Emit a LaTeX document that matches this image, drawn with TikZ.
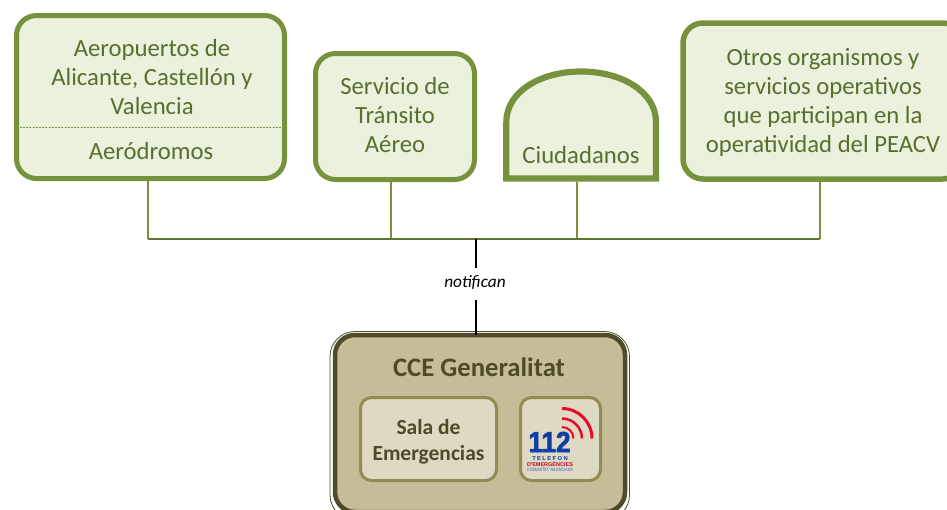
\documentclass[tikz,border=0pt]{standalone}
\usepackage{fontspec}
\setmainfont{Carlito}
\newfontfamily\logofont{Liberation Sans}
\definecolor{gline}{HTML}{76923C}
\definecolor{gfill}{HTML}{EAF1DD}
\definecolor{gtext}{HTML}{56702F}
\definecolor{gbus}{HTML}{5F7530}
\definecolor{cdark}{HTML}{4F4A2A}
\definecolor{cfill}{HTML}{C4BD97}
\definecolor{cin}{HTML}{DDD9C3}
\definecolor{cedge}{HTML}{948A54}
\definecolor{logoblue}{HTML}{0F3EA8}
\definecolor{logored}{HTML}{E30A2A}
\tikzset{
  x=1pt,y=-1pt,
  gbox/.style={draw=gline,fill=gfill,line width=5pt,rounded corners=20pt,inner sep=0pt,outer sep=0pt},
  glabel/.style={inner sep=0pt,text=gtext,align=center,font=\fontsize{24.7}{29}\selectfont},
  innerbox/.style={draw=cedge,fill=cin,line width=3pt,rounded corners=11pt,inner sep=0pt,outer sep=0pt},
  innerlabel/.style={inner sep=0pt,text=cdark,align=center,font=\bfseries\fontsize{21.5}{26}\selectfont},
  vbranch/.style={draw=gline,line width=1.4pt},
  hbus/.style={draw=gbus,line width=1.6pt},
  trunk/.style={draw=black,line width=1.6pt},
}
\begin{document}
\begin{tikzpicture}
\useasboundingbox (0,0) rectangle (947,509);
\clip (0,0) rectangle (947,509);
% top boxes
\node[gbox,minimum width=268pt,minimum height=163pt] (aero) at (150.5,97) {};
\node[glabel] (aerotxt) at (152,77) {Aeropuertos de\\Alicante, Castellón y\\Valencia};
\node[glabel] (aerod) at (151,151) {Aeródromos};
\draw[gline,line width=0.7pt,dash pattern=on 2pt off 1.2pt] (aero.west |- 0,127.5) -- (aero.east |- 0,127.5);
\node[gbox,minimum width=159pt,minimum height=126pt] (sta) at (395,116.5) {};
\node[glabel] (statxt) at (395,115.5) {Servicio de\\Tránsito\\Aéreo};
\node[gbox,line width=5.5pt,minimum width=280pt,minimum height=156pt] (otros) at (823,101) {};
\node[glabel] (otrostxt) at (823,102) {Otros organismos y\\servicios operativos\\que participan en la\\operatividad del PEACV};
% ciudadanos
\draw[draw=gline,fill=gfill,line width=6.2pt,line join=miter] (506.3,178.5) -- (506.3,122) .. controls (506.3,92) and (540,71.5) .. (581,71.5) .. controls (622,71.5) and (656,92) .. (656,122) -- (656,178.5) -- cycle;
\node[glabel] (ciud) at (581,155) {Ciudadanos};
% bus
\coordinate (b1) at (148,239);
\coordinate (b2) at (391,239);
\coordinate (b3) at (577,239);
\coordinate (b4) at (820,239);
\coordinate (hub) at (476,239);
\coordinate (ciudbase) at (577,182);
\draw[vbranch] (b1) -- (b1 |- aero.south);
\draw[vbranch] (b2) -- (b2 |- sta.south);
\draw[vbranch] (b3) -- (ciudbase);
\draw[vbranch] (b4) -- (b4 |- otros.south);
\draw[hbus] (b1) -- (b4);
% CCE
\draw[draw=cdark,line width=0.8pt,fill=white,rounded corners=25pt] (330,331.5) rectangle (629.5,520);
\node[draw=cdark,fill=cfill,line width=4.5pt,rounded corners=20pt,minimum width=290pt,minimum height=177pt,inner sep=0pt,outer sep=0pt] (cce) at (480,423.5) {};
\node[text=cdark,inner sep=0pt,font=\bfseries\fontsize{26.7}{30}\selectfont] (ccet) at (479,367) {CCE Generalitat};
\node[innerbox,minimum width=136pt,minimum height=83pt] (sala) at (428.5,439) {};
\node[innerlabel] (salatxt) at (428.5,441.5) {Sala de\\Emergencias};
\node[innerbox,minimum width=80pt,minimum height=83pt] (logo) at (560.5,439) {};
% logo
\begin{scope}[draw=logored,line cap=butt]
\draw[line width=3pt] (562,408.5) .. controls (578.6,408.5) and (592,421.9) .. (592,438.5);
\draw[line width=2.5pt] (562,418.5) .. controls (573,418.5) and (582,427.5) .. (582,438.5);
\draw[line width=2pt] (562,427) .. controls (568.4,427) and (573.5,432.1) .. (573.5,438.5);
\end{scope}
\node[text=logoblue,inner sep=0pt,xscale=0.9,font=\logofont\bfseries\fontsize{29}{29}\selectfont\addfontfeature{FakeBold=2.5}] (n112) at (549.5,442) {112};
\node[text=logoblue,inner sep=0pt,font=\logofont\bfseries\fontsize{5.8}{6}\selectfont\addfontfeature{LetterSpace=24}] (l1) at (550,458.3) {TELEFON};
\node[text=logored!85!black,inner sep=0pt,font=\logofont\bfseries\fontsize{5.5}{6}\selectfont] (l2) at (550,464.5) {D'EMERGÈNCIES};
\node[text=logoblue!80,inner sep=0pt,xscale=0.78,font=\logofont\fontsize{4.8}{5}\selectfont] (l3) at (550,469.5) {COMUNITAT VALENCIANA};
% notifican
\node[inner sep=0pt,minimum height=31.5pt,font=\itshape\fontsize{17.3}{20}\selectfont] (notif) at (475,283.75) {\raisebox{4pt}{notifican}};
\draw[trunk] (hub) -- (hub |- notif.north);
\draw[trunk] (hub |- notif.south) -- (hub |- cce.north);
\end{tikzpicture}
\end{document}
